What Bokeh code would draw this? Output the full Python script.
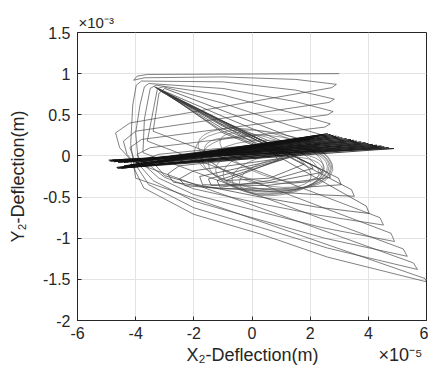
from bokeh.plotting import figure
from bokeh.models import FixedTicker, Range1d
from bokeh.embed import file_html
from bokeh.resources import INLINE

# units: x in 1e-5 m, y in 1e-3 m
x_ticks = [-6, -4, -2, 0, 2, 4, 6]
x_tick_labels = ["-6", "-4", "-2", "0", "2", "4", "6"]
y_ticks = [-2, -1.5, -1, -0.5, 0, 0.5, 1, 1.5]
y_tick_labels = ["-2", "-1.5", "-1", "-0.5", "0", "0.5", "1", "1.5"]

# outer orbit (large decaying loops)
outer_x = [3.00, -3.60, -3.95, -4.07, -3.70, -1.00, 1.50, 2.90, 2.75, -4.20, -4.69, -4.55, -4.24, -3.72, -2.00, 0.30, 2.60, 6.00, 5.95, -4.00, -4.17, -4.10, -3.98,
           -3.80, -1.00, 1.50, 2.83, 2.65, -4.00, -4.42, -4.30, -4.05, -3.55, -2.00, 0.30, 2.60, 5.69, 5.55, -3.90, -4.00, -3.85, -3.70,
           -3.55, -1.00, 1.50, 2.79, 2.60, -3.80, -4.20, -4.05, -3.40, -2.00, 0.30, 2.50, 5.34, 5.20, -3.75, -3.70, -3.50,
           -3.30, -1.00, 1.40, 2.69, 2.50, -3.50, -3.95, -3.80, -3.20, -2.00, 0.30, 2.40, 4.90, 4.78, -3.60, -3.25,
           -3.05, -1.00, 1.30, 2.55, 2.35, -3.20, -3.70, -3.50, -3.00, -2.00, 0.30, 2.30, 4.52, 4.40, -3.40, -3.20]
outer_y = [1.00, 0.99, 0.97, 0.92, 0.95, 0.96, 0.93, 0.87, 0.83, 0.40, 0.28, 0.10, -0.02, -0.39, -0.71, -0.95, -1.23, -1.53, -1.49, -0.27, 0.15, 0.62, 0.86,
           0.91, 0.90, 0.80, 0.69, 0.65, 0.30, 0.18, 0.02, -0.08, -0.35, -0.63, -0.87, -1.12, -1.38, -1.30, -0.10, 0.28, 0.62, 0.84,
           0.88, 0.82, 0.66, 0.54, 0.50, 0.20, 0.10, -0.04, -0.30, -0.55, -0.78, -1.00, -1.22, -1.13, 0.04, 0.45, 0.82,
           0.86, 0.74, 0.52, 0.39, 0.35, 0.10, 0.02, -0.08, -0.27, -0.47, -0.68, -0.87, -1.04, -0.94, 0.18, 0.82,
           0.84, 0.64, 0.37, 0.24, 0.21, 0.02, -0.04, -0.12, -0.26, -0.40, -0.58, -0.72, -0.84, -0.75, 0.30, 0.76]

# inner orbit (smaller loops converging to the centre)
inner_x = [-3.20, -3.00, -1.00, 1.20, 2.35, 2.15, -2.90, -3.30, -3.00, -2.00, 0.30, 2.20, 4.03, 3.93, -3.30,
           -1.00, 1.10, 2.10, 1.90, -2.50, -2.90, -2.70, -1.50, 0.50, 2.20, 3.52, 3.42, -3.35,
           -1.00, 1.00, 1.80, 1.60, -2.00, -2.50, -2.30, -1.00, 1.00, 3.07, 2.97, -3.25,
           -1.00, 1.00, 1.50, -1.80, -1.70, 0.50, 2.70, 2.60, -3.20,
           -1.00, 0.90, 1.30, -1.50, -1.40, 0.50, 2.40, 2.30, -3.10,
           -1.00, 0.80, 1.10, -1.20, -1.10, 0.60, 2.10, 2.00, -2.90,
           -1.00, 0.70, 0.90, -0.90, 0.60, 1.80, -2.70, -1.00, 0.60]
inner_y = [0.76, 0.82, 0.55, 0.25, 0.14, 0.12, -0.05, -0.12, -0.24, -0.34, -0.50, -0.62, -0.70, -0.61, 0.83,
           0.48, 0.17, 0.06, 0.04, -0.12, -0.22, -0.32, -0.38, -0.43, -0.47, -0.49, -0.41, 0.84,
           0.42, 0.12, 0.02, 0.00, -0.18, -0.28, -0.36, -0.40, -0.40, -0.35, -0.27, 0.82,
           0.38, 0.10, 0.00, -0.25, -0.35, -0.36, -0.26, -0.20, 0.80,
           0.36, 0.08, -0.02, -0.28, -0.36, -0.33, -0.20, -0.15, 0.78,
           0.33, 0.06, -0.04, -0.30, -0.38, -0.30, -0.15, -0.10, 0.74,
           0.30, 0.05, -0.05, -0.30, -0.27, -0.10, 0.70, 0.28, 0.05]

# thin horizontal lenses (dense band)
band_x = [-4.93, 4.88, -4.62, 4.55, -4.85, 4.30, -4.55, 4.00, -4.75, 3.75, -4.45, 3.50, -4.60, 3.25,
          -4.30, 3.00, -4.40, 2.80, -4.10, 2.60, -4.00, 2.30, -3.70, 2.00, -3.30,
          -4.90, 4.70, -4.65, 4.45, -4.80, 4.15, -4.50, 3.90, -4.70, 3.60, -4.40, 3.40, -4.50, 3.10,
          -4.20, 2.90, -4.30, 2.70, -4.00, 2.45, -3.80, 2.15, -3.50]
band_y = [-0.05, 0.09, -0.15, 0.11, -0.06, 0.13, -0.14, 0.15, -0.07, 0.17, -0.13, 0.19, -0.08, 0.21,
          -0.12, 0.23, -0.08, 0.25, -0.11, 0.27, -0.08, 0.24, -0.10, 0.20, -0.08,
          -0.06, 0.10, -0.14, 0.12, -0.05, 0.14, -0.15, 0.16, -0.06, 0.18, -0.12, 0.20, -0.07, 0.22,
          -0.11, 0.24, -0.07, 0.26, -0.10, 0.26, -0.07, 0.22, -0.09]

# central elliptical loops
ring_cx = [0.4, 0.5, 0.6, 0.7, 0.3, 0.8, 0.9, 0.2, 1.0, 0.6]
ring_cy = [-0.05, -0.08, -0.12, -0.15, 0.00, -0.18, -0.22, -0.08, -0.25, -0.02]
ring_w = [4.8, 4.5, 4.2, 3.9, 4.4, 3.6, 3.2, 3.8, 2.9, 3.6]
ring_h = [0.70, 0.66, 0.62, 0.58, 0.60, 0.55, 0.48, 0.50, 0.44, 0.45]
ring_ang = [-8, -5, -2, 2, -12, 5, 8, -16, 10, -20]

FONT = "Liberation Sans"
INK = "#262626"
NB = "\u00a0"

p = figure(width=428, height=376, output_backend="svg", toolbar_location=None,
           x_range=Range1d(-6, 6), y_range=Range1d(-2, 1.5),
           min_border_left=77, min_border_right=2, min_border_top=32, min_border_bottom=56)
p.background_fill_color = "white"
p.outline_line_color = INK
p.outline_line_width = 1

p.title.text = "×10⁻³"
p.title.align = "left"
p.title.offset = 1
p.title.text_font = FONT
p.title.text_font_size = "15px"
p.title.text_font_style = "normal"
p.title.text_color = INK
p.title.standoff = 4

p.line(outer_x, outer_y, line_color="#4a4a4a", line_width=0.7)
p.line(inner_x, inner_y, line_color="#3a3a3a", line_width=0.7)
p.ellipse(x=ring_cx, y=ring_cy, width=ring_w, height=ring_h, angle=ring_ang, angle_units="deg",
          fill_alpha=0, line_color="#555555", line_width=0.6)
p.line(band_x, band_y, line_color="#111111", line_width=0.8)

p.xaxis.ticker = FixedTicker(ticks=x_ticks)
p.yaxis.ticker = FixedTicker(ticks=y_ticks)
p.xaxis.major_label_overrides = dict(zip(x_ticks, x_tick_labels))
p.yaxis.major_label_overrides = dict(zip(y_ticks, y_tick_labels))
p.xaxis.axis_label = NB * 21 + "X₂-Deflection(m)" + NB * 12 + "×10⁻⁵"
p.yaxis.axis_label = "Y₂-Deflection(m)"
for ax in (p.xaxis, p.yaxis):
    ax.axis_line_color = INK
    ax.major_tick_line_color = INK
    ax.major_tick_in = 4
    ax.major_tick_out = 0
    ax.minor_tick_line_color = None
    ax.major_label_text_font = FONT
    ax.major_label_text_font_size = "16px"
    ax.major_label_text_color = INK
    ax.axis_label_text_font = FONT
    ax.axis_label_text_font_size = "18px"
    ax.axis_label_text_font_style = "normal"
    ax.axis_label_text_color = INK
p.xaxis.major_label_standoff = 6
p.xaxis.axis_label_standoff = 3
p.yaxis.major_label_standoff = 7
p.yaxis.axis_label_standoff = 12

p.grid.grid_line_color = "#e3e3e3"
p.grid.grid_line_width = 1

open("out.html", "w").write(file_html(p, INLINE))
